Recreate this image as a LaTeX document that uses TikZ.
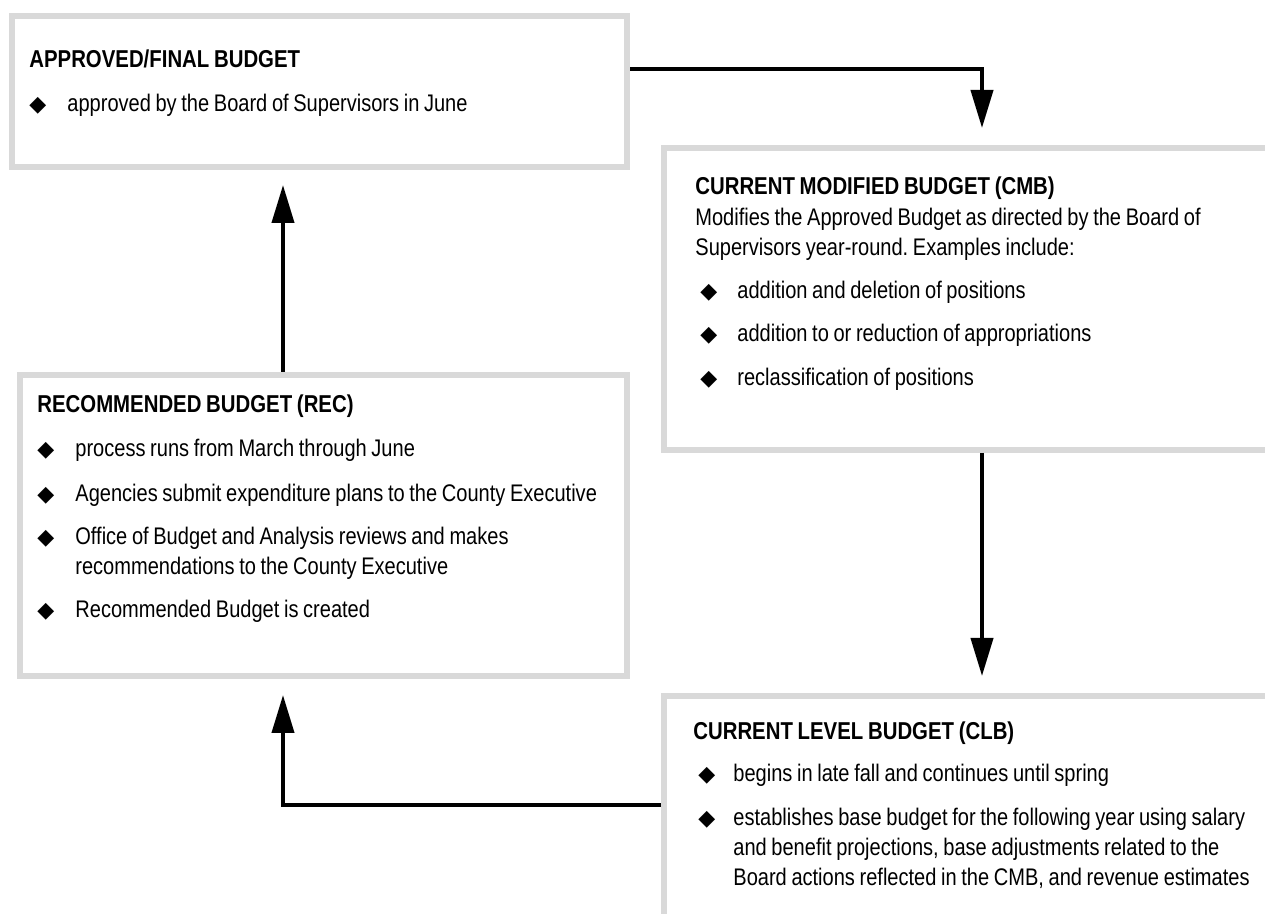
\documentclass[tikz,border=0pt]{standalone}
\usepackage{fontspec}
\setmainfont{Liberation Sans}[FakeStretch=0.835, WordSpace=0.835]
\newfontfamily\bulletfont{DejaVu Sans}
\usetikzlibrary{arrows.meta}
\definecolor{framegray}{RGB}{217,217,217}
\frenchspacing

\begin{document}
\begin{tikzpicture}[
      x = 0.5pt, y = -0.5pt,
      stage/.style = {
        draw = framegray, line width = 3pt, fill = white,
        anchor = north west, inner sep = 0pt
      },
      heading/.style = {
        anchor = base west, inner sep = 0pt,
        font = \fontsize{12.2}{15}\selectfont\bfseries
      },
      entry/.style = {
        anchor = base west, inner sep = 0pt,
        text width = 300pt, align = flush left,
        font = \fontsize{12}{15}\selectfont
      },
      dot/.style = {
        anchor = base west, inner sep = 0pt,
        font = \bulletfont\fontsize{11}{11}\selectfont
      },
      flow/.style = { line width = 2pt, -{Triangle[length = 19pt, width = 11pt]} },
    ]

    \path[use as bounding box, fill = white] (0,0) rectangle (1265,914);

    \node[stage, minimum width = 307.5pt, minimum height = 75.5pt] (final) at (9,13) {};
    \node[stage, minimum width = 314.5pt, minimum height = 151pt] (cmb) at (661,145) {};
    \node[stage, minimum width = 303.5pt, minimum height = 150.5pt] (rec) at (17,372) {};
    \node[stage, minimum width = 314.5pt, minimum height = 128.5pt] (clb) at (661,693) {};

    \node[heading] (final-h) at (29,68) {APPROVED/FINAL BUDGET};
    \node[dot] (final-d1) at (29,112) {◆};
    \node[entry] (final-t1) at (67,112) {approved by the Board of Supervisors in June};

    \node[heading] (cmb-h) at (695,195) {CURRENT MODIFIED BUDGET (CMB)};
    \node[entry] (cmb-p) at (695,226) {Modifies the Approved Budget as directed by the Board of\\
      Supervisors year-round. Examples include:};
    \foreach \y/\t [count=\i] in {299/{addition and deletion of positions},
        342/{addition to or reduction of appropriations},
        386/{reclassification of positions}} {
      \node[dot] (cmb-d\i) at (700,\y) {◆};
      \node[entry] (cmb-t\i) at (737,\y) {\t};
    }

    \node[heading] (rec-h) at (37,413) {RECOMMENDED BUDGET (REC)};
    \foreach \y/\t [count=\i] in {457/{process runs from March through June},
        502/{Agencies submit expenditure plans to the County Executive},
        545/{Office of Budget and Analysis reviews and makes\\ recommendations to the County Executive},
        618/{Recommended Budget is created}} {
      \node[dot] (rec-d\i) at (37,\y) {◆};
      \node[entry] (rec-t\i) at (75,\y) {\t};
    }

    \node[heading] (clb-h) at (693,740) {CURRENT LEVEL BUDGET (CLB)};
    \foreach \y/\t [count=\i] in {782/{begins in late fall and continues until spring},
        825/{establishes base budget for the following year using salary\\
          and benefit projections, base adjustments related to the\\
          Board actions reflected in the CMB, and revenue estimates}} {
      \node[dot] (clb-d\i) at (698,\y) {◆};
      \node[entry] (clb-t\i) at (733,\y) {\t};
    }

    \coordinate (leftcol) at (283,0);
    \coordinate (rightcol) at (982,0);
    \coordinate (topline) at (0,69);
    \coordinate (lowline) at (0,805);

    \draw[flow, shorten > = 8.5pt] (final.east |- topline) -| (cmb.north -| rightcol);
    \draw[flow, shorten > = 8.5pt] (cmb.south -| rightcol) -- (clb.north -| rightcol);
    \draw[flow, shorten > = 8pt] (clb.west |- lowline) -| (rec.south -| leftcol);
    \draw[flow, shorten > = 7.5pt] (rec.north -| leftcol) -- (final.south -| leftcol);
    % \draw[framegray] (cmb.south east) -- (clb.north east);
  \end{tikzpicture}
\end{document}
